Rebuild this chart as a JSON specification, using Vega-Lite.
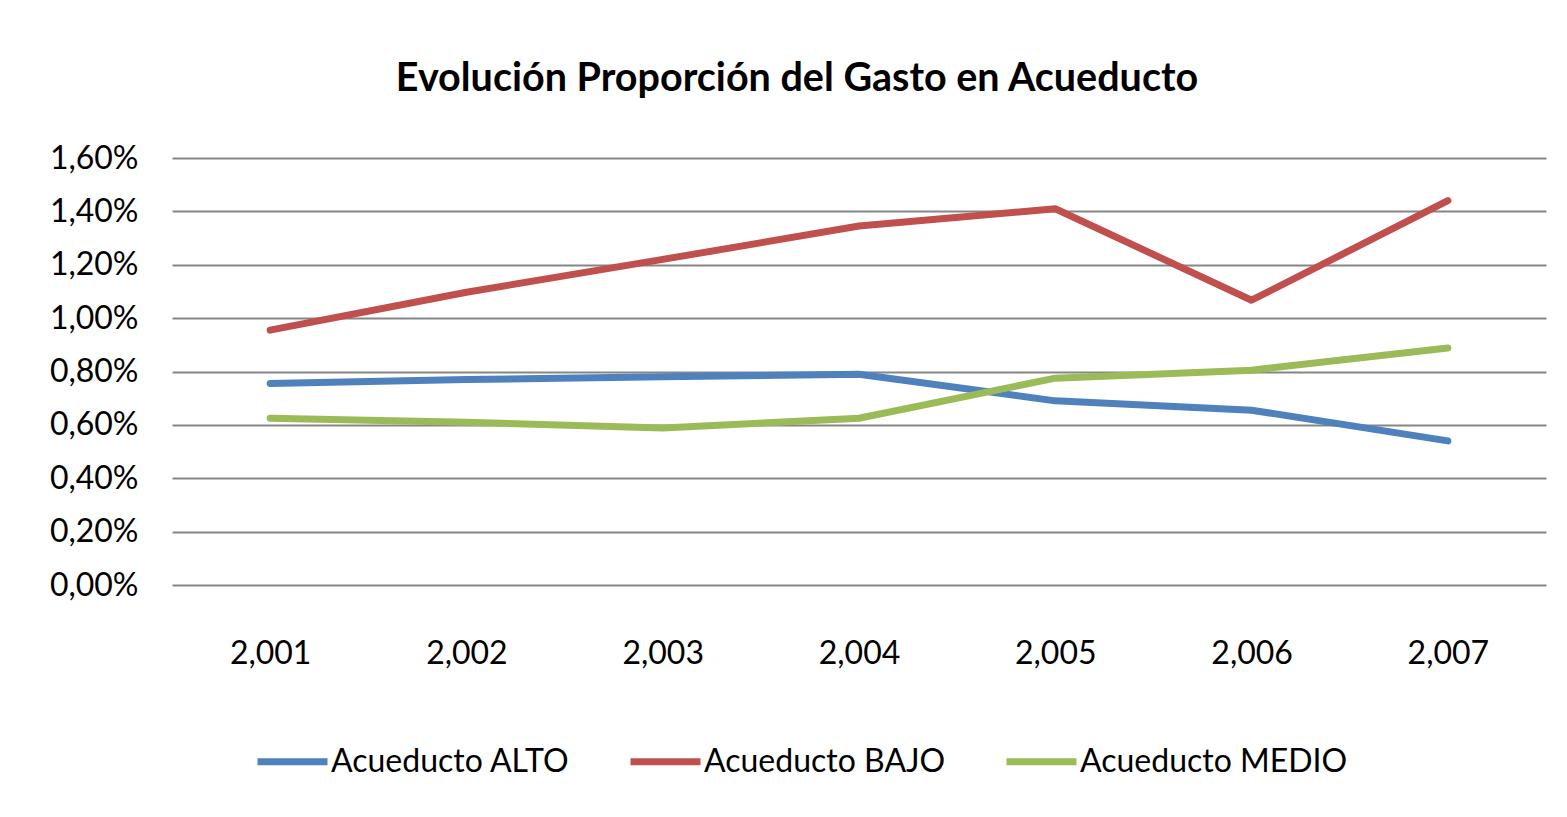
{
  "$schema": "https://vega.github.io/schema/vega-lite/v6.json",
  "width": 1374,
  "height": 427,
  "autosize": {"type": "none"},
  "padding": {"left": 172, "top": 158, "right": 21, "bottom": 232},
  "background": "white",
  "title": {
    "text": "Evolución Proporción del Gasto en Acueducto",
    "font": "Lato",
    "fontSize": 39.5,
    "fontWeight": "bold",
    "color": "#000000",
    "anchor": "middle",
    "dx": -62,
    "offset": 43
  },
  "data": {
    "values": [
      {"year": 2001, "serie": "Acueducto ALTO", "pct": 0.755},
      {"year": 2002, "serie": "Acueducto ALTO", "pct": 0.77},
      {"year": 2003, "serie": "Acueducto ALTO", "pct": 0.78},
      {"year": 2004, "serie": "Acueducto ALTO", "pct": 0.79},
      {"year": 2005, "serie": "Acueducto ALTO", "pct": 0.69},
      {"year": 2006, "serie": "Acueducto ALTO", "pct": 0.655},
      {"year": 2007, "serie": "Acueducto ALTO", "pct": 0.54},
      {"year": 2001, "serie": "Acueducto BAJO", "pct": 0.955},
      {"year": 2002, "serie": "Acueducto BAJO", "pct": 1.097},
      {"year": 2003, "serie": "Acueducto BAJO", "pct": 1.22},
      {"year": 2004, "serie": "Acueducto BAJO", "pct": 1.345},
      {"year": 2005, "serie": "Acueducto BAJO", "pct": 1.41},
      {"year": 2006, "serie": "Acueducto BAJO", "pct": 1.067},
      {"year": 2007, "serie": "Acueducto BAJO", "pct": 1.44},
      {"year": 2001, "serie": "Acueducto MEDIO", "pct": 0.625},
      {"year": 2002, "serie": "Acueducto MEDIO", "pct": 0.61},
      {"year": 2003, "serie": "Acueducto MEDIO", "pct": 0.588},
      {"year": 2004, "serie": "Acueducto MEDIO", "pct": 0.625},
      {"year": 2005, "serie": "Acueducto MEDIO", "pct": 0.775},
      {"year": 2006, "serie": "Acueducto MEDIO", "pct": 0.805},
      {"year": 2007, "serie": "Acueducto MEDIO", "pct": 0.888}
    ]
  },
  "mark": {"type": "line", "strokeWidth": 7, "strokeCap": "round", "strokeJoin": "round"},
  "encoding": {
    "x": {
      "field": "year",
      "type": "ordinal",
      "scale": {"type": "point", "padding": 0.5},
      "axis": {
        "title": null,
        "labelAngle": 0,
        "labelExpr": "format(datum.value, ',')",
        "domain": false,
        "ticks": false,
        "tickSize": 0,
        "grid": false,
        "labelPadding": 68,
        "labelBaseline": "middle"
      }
    },
    "y": {
      "field": "pct",
      "type": "quantitative",
      "scale": {"domain": [0, 1.6], "nice": false},
      "axis": {
        "title": null,
        "values": [0, 0.2, 0.4, 0.6, 0.8, 1.0, 1.2, 1.4, 1.6],
        "labelExpr": "replace(format(datum.value, '.2f'), '.', ',') + '%'",
        "domain": false,
        "ticks": false,
        "tickSize": 0,
        "labelPadding": 34,
        "grid": true,
        "gridColor": "#868686",
        "gridWidth": 2,
        "gridOpacity": 1
      }
    },
    "color": {
      "field": "serie",
      "type": "nominal",
      "scale": {
        "domain": ["Acueducto ALTO", "Acueducto BAJO", "Acueducto MEDIO"],
        "range": ["#4F81BD", "#C0504D", "#9BBB59"]
      },
      "legend": {
        "title": null,
        "orient": "none",
        "direction": "horizontal",
        "legendX": 82,
        "legendY": 565,
        "symbolType": "stroke",
        "symbolSize": 4900,
        "symbolStrokeWidth": 7,
        "labelOffset": 0,
        "columnPadding": 46,
        "padding": 0
      }
    }
  },
  "config": {
    "view": {"stroke": null},
    "axis": {
      "labelFont": "Lato",
      "labelFontSize": 32,
      "labelColor": "#000000"
    },
    "legend": {
      "labelFont": "Lato",
      "labelFontSize": 32,
      "labelColor": "#000000",
      "labelLimit": 400
    }
  }
}
